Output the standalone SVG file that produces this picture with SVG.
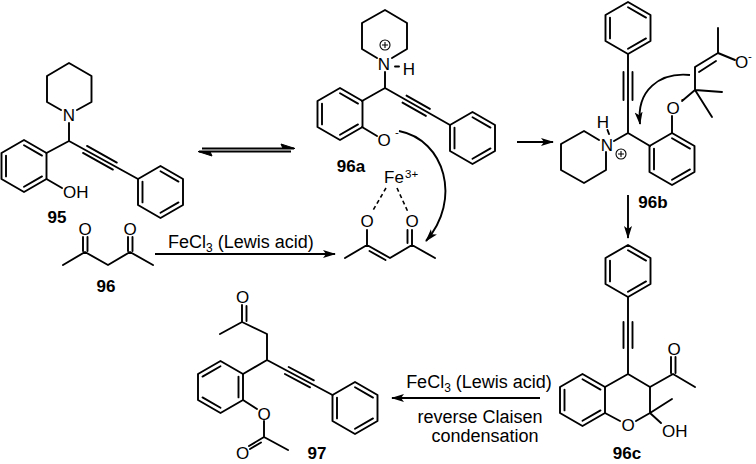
<svg xmlns="http://www.w3.org/2000/svg" xmlns:xlink="http://www.w3.org/1999/xlink" width="756" height="464" viewBox="0 0 756 464">
<style>
.b{stroke:#000;stroke-width:1.9;fill:none;stroke-linecap:round;stroke-linejoin:round}
.d{stroke:#000;stroke-width:1.6;fill:none;stroke-dasharray:4 3}
.a{font-family:"Liberation Sans",Arial,sans-serif;font-size:17px;fill:#000}
.s{font-family:"Liberation Sans",Arial,sans-serif;font-size:11.5px;fill:#000}
.l{font-family:"Liberation Sans",Arial,sans-serif;font-size:17px;font-weight:bold;fill:#000;text-anchor:middle}
.c{font-family:"Liberation Sans",Arial,sans-serif;font-size:18px;fill:#000}
.ar{stroke:#000;stroke-width:1.9;fill:none}
</style>
<defs>
<marker id="ah" markerUnits="userSpaceOnUse" markerWidth="14" markerHeight="10" refX="12" refY="5" orient="auto">
<path d="M0,1 L13,5 L0,9 L3,5 z" fill="#000"/>
</marker>
<g id="bzA" class="b"><polygon points="0,-26 22.5,-13 22.5,13 0,26 -22.5,13 -22.5,-13"/><path d="M0,-20.8 L18,-10.4 M18,10.4 L0,20.8 M-18,10.4 L-18,-10.4"/></g>
<g id="bzB" class="b"><polygon points="0,-26 22.5,-13 22.5,13 0,26 -22.5,13 -22.5,-13"/><path d="M-18,-10.4 L0,-20.8 M18,-10.4 L18,10.4 M0,20.8 L-18,10.4"/></g>
<g id="plus"><circle r="5" fill="none" stroke="#000" stroke-width="1.1"/><path d="M-3,0 H3 M0,-3 V3" stroke="#000" stroke-width="1.1"/></g>
</defs>
<rect width="756" height="464" fill="#fff"/>

<g id="mol-95">
<path class="b" d="M61,110 L47,102 L47,76 L69,63 L91.5,76 L91.5,102 L77,110"/>
<text class="a" x="69" y="121" text-anchor="middle">N</text>
<path class="b" d="M69,123 L69,141 L46.5,153 M69,141 L138,179 M83,152.9 L112.9,169.6 M87,145.9 L116.8,162.6 M46.5,179 L62,188"/>
<use xlink:href="#bzA" x="24" y="166"/>
<use xlink:href="#bzA" x="160.5" y="192"/>
<text class="a" x="63" y="198">OH</text>
<text class="l" x="57" y="223">95</text>
</g>

<g id="mol-96">
<path class="b" d="M63,265 L85,252 L108,265 L130,252 L153,265 M83,251 L83,237 M87.5,251 L87.5,237 M128,251 L128,237 M132.5,251 L132.5,237"/>
<text class="a" x="85" y="235" text-anchor="middle">O</text>
<text class="a" x="130" y="235" text-anchor="middle">O</text>
<text class="l" x="106" y="292">96</text>
</g>

<g id="mol-96a">
<path class="b" d="M377,58 L362,49 L362,23 L385,10 L407,23 L407,49 L392,58"/>
<use xlink:href="#plus" x="385" y="45"/>
<text class="a" x="384" y="70" text-anchor="middle">N</text>
<path class="b" d="M395,66.5 L399,66.5"/>
<text class="a" x="409" y="75" text-anchor="middle">H</text>
<path class="b" d="M385,72 L385,88 L362,101 M385,88 L450,125 M402.5,102.6 L425.9,115.9 M406.5,95.6 L429.9,108.9 M362,127 L377,136"/>
<use xlink:href="#bzA" x="340" y="114"/>
<use xlink:href="#bzA" x="472.5" y="138"/>
<text class="a" x="384" y="146" text-anchor="middle">O</text>
<text class="s" x="395" y="136">-</text>
<text class="l" x="351" y="172">96a</text>
</g>

<g id="mol-fe-complex">
<text class="a" x="384" y="183">Fe</text>
<text class="s" x="405" y="178">3+</text>
<path class="d" d="M386,188 L372,212 M397,188 L408,212"/>
<text class="a" x="367" y="227" text-anchor="middle">O</text>
<text class="a" x="412" y="227" text-anchor="middle">O</text>
<path class="b" d="M345,258 L367,245 L390,258 L412,245 L435,258 M367,245 L367,230 M412,245 L412,230 M407.5,243 L407.5,230 M369.5,251 L385.5,260"/>
</g>

<g id="mol-96b">
<use xlink:href="#bzA" x="628" y="28"/>
<path class="b" d="M628,54 L628,133 M623.5,72 L623.5,100 M632.5,72 L632.5,100 M628,133 L614,141 M628,133 L650,146"/>
<path class="b" d="M599,140 L584,131 L561,144 L561,170 L584,183 L606,170 L606,152"/>
<text class="a" x="607" y="151" text-anchor="middle">N</text>
<text class="a" x="603" y="128" text-anchor="middle">H</text>
<path class="b" d="M607.5,130 L609,134"/>
<use xlink:href="#plus" x="621" y="154"/>
<use xlink:href="#bzA" x="672" y="159"/>
<path class="b" d="M672,133 L672,116 M695,90 L682,101 M695,90 L722,92 M695,90 L712,117 M695,90 L695,67 L718,53 L718,28 M699,72 L716,61 M718,53 L735,60"/>
<text class="a" x="673" y="113.5" text-anchor="middle">O</text>
<text class="s" x="681" y="102">-</text>
<text class="a" x="741.5" y="68" text-anchor="middle">O</text>
<text class="s" x="748" y="60">-</text>
<text class="l" x="653" y="208">96b</text>
</g>

<g id="mol-96c">
<use xlink:href="#bzA" x="628" y="271"/>
<use xlink:href="#bzA" x="582.5" y="400"/>
<path class="b" d="M628,297 L628,374 M623.5,322 L623.5,348 M632.5,322 L632.5,348 M605,387 L628,374 L650,387 L650,413 L636,421 M605,413 L620,421 M650,413 L672,399 M650,413 L661,423 M650,387 L673,374 L695,387 M671,373 L671,357 M675.5,373 L675.5,357"/>
<text class="a" x="628" y="431" text-anchor="middle">O</text>
<text class="a" x="662" y="437">OH</text>
<text class="a" x="674" y="355" text-anchor="middle">O</text>
<text class="l" x="627" y="459">96c</text>
</g>

<g id="mol-97">
<use xlink:href="#bzB" x="220.5" y="387"/>
<use xlink:href="#bzA" x="355" y="408"/>
<text class="a" x="242.5" y="302.5" text-anchor="middle">O</text>
<path class="b" d="M242,305 L242,322 L220,334 M246.5,306 L246.5,321 M242,322 L267,334 L267,360 L243,374 M267,360 L332.5,395 M284.9,374 L310,387.3 M288.7,367 L313.8,380.3"/>
<path class="b" d="M243,400 L257,409 M264,421 L264,437 L288,450 M264,437 L249,446 M261,442.5 L250,449"/>
<text class="a" x="264" y="419.5" text-anchor="middle">O</text>
<text class="a" x="242.5" y="459" text-anchor="middle">O</text>
<text class="l" x="317" y="459">97</text>
</g>

<g id="connectors">
<path class="ar" d="M202,148.5 L294,148.5 M199,151.5 L291,151.5"/>
<path d="M295,148.5 L281,144 L283,148.5 z M198,151.5 L212,156 L210,151.5 z" fill="#000" stroke="#000" stroke-width="1"/>
<path class="ar" d="M155,254 L335,254" marker-end="url(#ah)"/>
<text class="c" x="168" y="248">FeCl<tspan font-size="12" dy="4">3</tspan><tspan dy="-4"> (Lewis acid)</tspan></text>
<path class="ar" d="M517,142 L553,142" marker-end="url(#ah)"/>
<path class="ar" d="M628,195 L628,238" marker-end="url(#ah)"/>
<path class="ar" d="M540,398 L392,398" marker-end="url(#ah)"/>
<text class="c" x="479" y="388" text-anchor="middle">FeCl<tspan font-size="12" dy="4">3</tspan><tspan dy="-4"> (Lewis acid)</tspan></text>
<text class="c" x="480" y="423" text-anchor="middle">reverse Claisen</text>
<text class="c" x="485" y="442" text-anchor="middle">condensation</text>
<path class="ar" d="M399,131 C445,140 462,200 426,241" marker-end="url(#ah)"/>
<path class="ar" d="M690,75 C660,72 636,90 640,124" marker-end="url(#ah)"/>
</g>
</svg>
